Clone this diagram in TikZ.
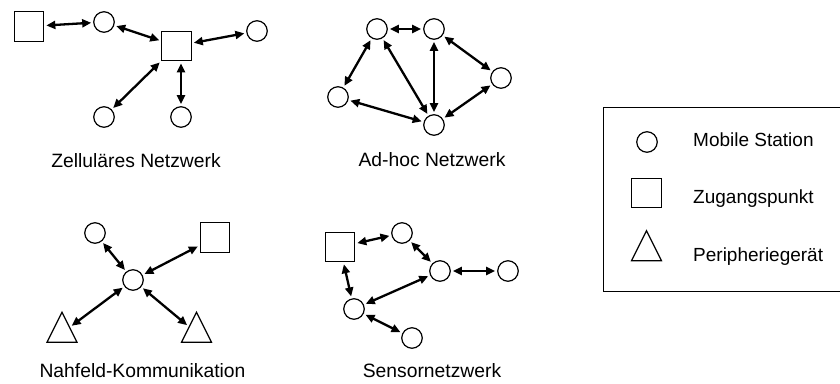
\documentclass[tikz,border=0pt]{standalone}
\usepackage{fontspec}
\setmainfont{Liberation Sans}
\usetikzlibrary{arrows.meta,shapes.geometric}
\begin{document}
\begin{tikzpicture}[x=1pt,y=-1pt,
  ms/.style={circle,draw,line width=1.2pt,minimum size=20.5pt,inner sep=0pt},
  ap/.style={rectangle,draw,line width=1.2pt,minimum size=29.5pt,inner sep=0pt},
  pg/.style={isosceles triangle,isosceles triangle stretches,shape border rotate=90,draw,line width=1.2pt,minimum width=30pt,minimum height=30pt,inner sep=0pt},
  link/.style={{Triangle[length=9pt,width=8pt]}-{Triangle[length=9pt,width=8pt]},line width=2.3pt,shorten <=2pt,shorten >=2pt},
  lbl/.style={anchor=base,font=\fontsize{19.3}{23}\selectfont,inner sep=0pt},
  lgd/.style={anchor=base west,font=\fontsize{19}{23}\selectfont,inner sep=0pt}]
\useasboundingbox (0,0) rectangle (840,383);
% Zellulaeres Netzwerk
\node[ap] (z1) at (29,26.5) {};
\node[ms] (z2) at (104,22) {};
\node[ap] (z3) at (176.5,46) {};
\node[ms] (z4) at (257,31) {};
\node[ms] (z5) at (104,117) {};
\node[ms] (z6) at (181,117) {};
\draw[link] (z1) -- (z2);
\draw[link] (z2) -- (z3);
\draw[link] (z3) -- (z4);
\draw[link] (z3) -- (z5);
\draw[link] (z3.south -| z6) -- (z6.north);
\node[lbl] (zl) at (136,167) {Zelluläres Netzwerk};
% Ad-hoc Netzwerk
\node[ms] (a1) at (377,29) {};
\node[ms] (a2) at (434,29) {};
\node[ms] (a3) at (501,78) {};
\node[ms] (a4) at (338,97) {};
\node[ms] (a5) at (434,125) {};
\draw[link] (a1) -- (a2);
\draw[link] (a1) -- (a4);
\draw[link] (a1) -- (a5);
\draw[link] (a2) -- (a5);
\draw[link] (a2) -- (a3);
\draw[link] (a3) -- (a5);
\draw[link] (a4) -- (a5);
\node[lbl] (al) at (432,166) {Ad-hoc Netzwerk};
% Nahfeld-Kommunikation
\node[ms] (n1) at (95,233) {};
\node[ap] (n2) at (215,237.5) {};
\node[ms] (n3) at (133,280) {};
\node[pg] (n4) at (62,333) {};
\node[pg] (n5) at (196.5,333) {};
\draw[link] (n3) -- (n1);
\draw[link] (n3) -- (n2);
\draw[link] (n3) -- (n4);
\draw[link] (n3) -- (n5);
\node[lbl] (nl) at (142.5,377) {Nahfeld-Kommunikation};
% Sensornetzwerk
\node[ap] (s1) at (340,247) {};
\node[ms] (s2) at (402,233) {};
\node[ms] (s3) at (440,271) {};
\node[ms] (s4) at (508,271) {};
\node[ms] (s5) at (354,309) {};
\node[ms] (s6) at (412,338) {};
\draw[link] (s1) -- (s2);
\draw[link] (s2) -- (s3);
\draw[link] (s3) -- (s4);
\draw[link] (s1) -- (s5);
\draw[link] (s3) -- (s5);
\draw[link] (s5) -- (s6);
\node[lbl] (sl) at (432,377) {Sensornetzwerk};
% Legend
\node[draw,line width=1.2pt,minimum width=250pt,minimum height=184pt,inner sep=0pt,anchor=north west] (box) at (603,107) {};
\node[ms] (lg1) at (647,142) {};
\node[ap] (lg2) at (646.5,193) {};
\node[pg] (lg3) at (646.5,251.5) {};
\node[lgd] (lt1) at (693,146) {Mobile Station};
\node[lgd] (lt2) at (693,203) {Zugangspunkt};
\node[lgd] (lt3) at (693,261) {Peripheriegerät};
\end{tikzpicture}
\end{document}
